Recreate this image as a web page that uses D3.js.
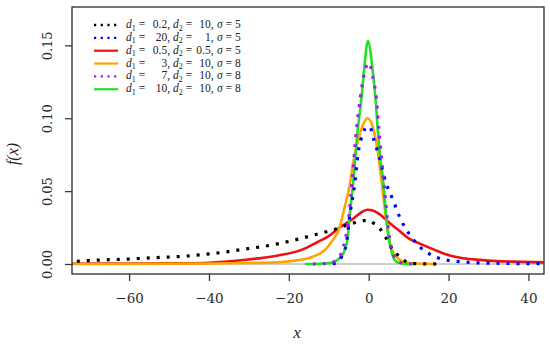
<!DOCTYPE html>
<html>
<head>
<meta charset="utf-8">
<script src="https://cdn.jsdelivr.net/npm/d3@7"></script>
<style>
  html, body { margin: 0; padding: 0; background: #fff; }
  svg { display: block; }
</style>
</head>
<body>
<svg id="chart" width="550" height="345"></svg>
<script>
// ---- data ----
const xTicks = [-60, -40, -20, 0, 20, 40];
const yTicks = [0.00, 0.05, 0.10, 0.15];

const blackPts = [[-73.1,0.0019],[-67.4,0.0027],[-60,0.0034],[-52.4,0.0045],[-47,0.0052],[-39,0.0072],[-31,0.0102],[-24,0.0132],[-17,0.0175],[-12,0.0212],[-9,0.0232],[-5.6,0.0266],[-1.8,0.0295],[-0.4,0.0300],[1.1,0.0282],[2.8,0.0243],[4.4,0.0175],[6.1,0.0095],[7.8,0.0050],[9.4,0.0016],[11.1,0.0005],[13,0.0002],[17,0]];
const bluePts = [[-9,0],[-8.5,0.0005],[-7.5,0.002],[-6.8,0.005],[-5.6,0.014],[-4.8,0.032],[-3.5,0.055],[-2.6,0.077],[-1.5,0.089],[-0.5,0.094],[0.3,0.094],[1.1,0.087],[1.9,0.080],[2.7,0.073],[3.5,0.064],[4.4,0.055],[5.3,0.049],[6.5,0.041],[7.8,0.032],[9,0.0255],[10.7,0.0186],[12.8,0.0118],[15.3,0.0068],[18.2,0.0034],[20.3,0.0023],[22.8,0.0016],[25.3,0.0011],[27.8,0.0007],[32,0.0005],[38,0.0003],[44,0.0002]];
const redPts = [[-74.3,0.0002],[-60,0.0003],[-48,0.0005],[-40,0.0009],[-31.5,0.0027],[-23,0.0057],[-16.8,0.0097],[-12.6,0.0154],[-10.1,0.019],[-7.3,0.025],[-3.9,0.031],[-1.5,0.036],[-0.3,0.0372],[1,0.0367],[2.8,0.034],[5.3,0.028],[7.8,0.0225],[10.3,0.017],[12.8,0.014],[16.1,0.0102],[19.5,0.0065],[23.6,0.0040],[27.8,0.0028],[32,0.0020],[36.2,0.0016],[43.9,0.0011]];
const orangePts = [[-74,0],[-50,0.0002],[-40,0.0003],[-30,0.0007],[-22,0.0013],[-18,0.0025],[-14,0.005],[-11,0.0095],[-9,0.0164],[-7.3,0.025],[-6.2,0.037],[-4.7,0.055],[-3.8,0.071],[-2.9,0.082],[-1.5,0.095],[-0.3,0.100],[0.9,0.095],[2.1,0.080],[3.3,0.055],[4.3,0.032],[5.3,0.014],[6.9,0.005],[9.4,0.001],[12,0.0003],[17,0]];
const purplePts = [[-14,0],[-11,0.0003],[-9.8,0.0006],[-8,0.003],[-6.6,0.0095],[-5.0,0.032],[-4,0.062],[-3.1,0.091],[-2.1,0.114],[-1,0.132],[0,0.138],[1,0.129],[1.9,0.114],[2.6,0.091],[3.3,0.07],[4,0.05],[5,0.022],[6,0.008],[7,0.0025],[8.5,0.0005],[11,0]];
const greenPts = [[-16,0],[-12,0.0002],[-10,0.0006],[-9,0.001],[-8,0.0025],[-7.3,0.004],[-6,0.0095],[-5.2,0.019],[-4.8,0.032],[-3.9,0.055],[-3.3,0.075],[-2.9,0.088],[-1.8,0.114],[-1.25,0.130],[-0.2,0.153],[1.1,0.130],[1.7,0.114],[2.3,0.091],[2.9,0.073],[3.7,0.055],[4.4,0.032],[5.3,0.014],[6.1,0.005],[7.3,0.001],[9,0.0002],[11,0]];

const d1Labels = ["0.2", "20", "0.5", "3", "7", "10"];
const d2Labels = ["10", "1", "0.5", "10", "10", "10"];
const sigmaLabels = ["5", "5", "5", "8", "8", "8"];
const seriesColors = ["#000000", "#0000ff", "#ee1111", "#ffa500", "#a020f0", "#22e022"];
const seriesDotted = [true, true, false, false, true, false];
const seriesData = [blackPts, bluePts, redPts, orangePts, purplePts, greenPts];

// ---- layout ----
const L = 72, R = 544, T = 7, B = 274;
const x = d3.scaleLinear().domain([-74.3, 43.9]).range([L, R]);
const y = d3.scaleLinear().domain([-0.00686, 0.1763]).range([B, T]);

const svg = d3.select("#chart");
const defs = svg.append("defs");
defs.append("clipPath").attr("id", "clip")
  .append("rect").attr("x", L).attr("y", T).attr("width", R - L).attr("height", B - T);

const plot = svg.append("g").attr("clip-path", "url(#clip)");

// zero reference line
plot.append("line")
  .attr("x1", L).attr("x2", R)
  .attr("y1", y(0)).attr("y2", y(0))
  .attr("stroke", "#cfcfcf").attr("stroke-width", 2);

const line = d3.line().x(d => x(d[0])).y(d => y(d[1])).curve(d3.curveMonotoneX);

// draw solid first, then dotted
const order = [2, 3, 5, 0, 1, 4];
order.forEach(i => {
  plot.append("path")
    .datum(seriesData[i])
    .attr("d", line)
    .attr("fill", "none")
    .attr("stroke", seriesColors[i])
    .attr("stroke-width", seriesDotted[i] ? 3.2 : 2.6)
    .attr("stroke-dasharray", seriesDotted[i] ? "3,7" : null)
    .attr("stroke-linejoin", "round");
});

// axes
const axisColor = "#3a3a3a";
const xAxis = svg.append("g").attr("transform", `translate(0,${B})`)
  .call(d3.axisBottom(x).tickValues(xTicks).tickSize(7).tickSizeOuter(0).tickFormat(d3.format("d")));
xAxis.select(".domain").remove();
xAxis.selectAll("line").attr("stroke", axisColor).attr("stroke-width", 1.3);
xAxis.selectAll("text")
  .attr("y", 28.7).attr("dy", null)
  .attr("fill", "#2a2a2a")
  .style("font-family", "'DejaVu Serif', serif").style("font-size", "13.5px");

const yAxis = svg.append("g").attr("transform", `translate(${L},0)`)
  .call(d3.axisLeft(y).tickValues(yTicks).tickSize(7).tickSizeOuter(0).tickFormat(d3.format(".2f")));
yAxis.select(".domain").remove();
yAxis.selectAll("line").attr("stroke", axisColor).attr("stroke-width", 1.3);
yAxis.selectAll("text")
  .attr("transform", "rotate(-90)")
  .attr("x", 0).attr("y", -20.5).attr("dy", null)
  .attr("text-anchor", "middle")
  .attr("fill", "#2a2a2a")
  .style("font-family", "'DejaVu Serif', serif").style("font-size", "13px");

// box
svg.append("rect")
  .attr("x", L).attr("y", T).attr("width", R - L).attr("height", B - T)
  .attr("fill", "none").attr("stroke", axisColor).attr("stroke-width", 1.4);

// axis titles
svg.append("text")
  .attr("x", 297).attr("y", 338)
  .attr("text-anchor", "middle")
  .style("font-family", "'Liberation Serif', serif").style("font-style", "italic").style("font-size", "17px")
  .attr("fill", "#222")
  .text("x");

svg.append("text")
  .attr("transform", "translate(18,154) rotate(-90)")
  .attr("text-anchor", "middle")
  .style("font-family", "'Liberation Serif', serif").style("font-style", "italic").style("font-size", "16px")
  .attr("fill", "#222")
  .text("f(x)");

// legend
const leg = svg.append("g")
  .style("font-family", "'Liberation Serif', serif").style("font-size", "11.5px").attr("fill", "#222");
d1Labels.forEach((v, i) => {
  const cy = 25 + i * 12.85;
  leg.append("line")
    .attr("x1", 94).attr("x2", 118).attr("y1", cy).attr("y2", cy)
    .attr("stroke", seriesColors[i])
    .attr("stroke-width", seriesDotted[i] ? 2.4 : 2.2)
    .attr("stroke-dasharray", seriesDotted[i] ? "2.2,4.5" : null);
  const by = cy + 3;
  const t1 = leg.append("text").attr("x", 126).attr("y", by);
  t1.append("tspan").style("font-style", "italic").text("d");
  t1.append("tspan").attr("dy", 2.5).style("font-size", "8px").text("1");
  t1.append("tspan").attr("dy", -2.5).text(" =");
  leg.append("text").attr("x", 170).attr("y", by).attr("text-anchor", "end").text(v + ",");
  const t2 = leg.append("text").attr("x", 173).attr("y", by);
  t2.append("tspan").style("font-style", "italic").text("d");
  t2.append("tspan").attr("dy", 2.5).style("font-size", "8px").text("2");
  t2.append("tspan").attr("dy", -2.5).text(" =");
  leg.append("text").attr("x", 213.5).attr("y", by).attr("text-anchor", "end").text(d2Labels[i] + ",");
  const t3 = leg.append("text").attr("x", 217).attr("y", by);
  t3.append("tspan").style("font-style", "italic").text("σ");
  t3.append("tspan").text(" = " + sigmaLabels[i]);
});
</script>
</body>
</html>
